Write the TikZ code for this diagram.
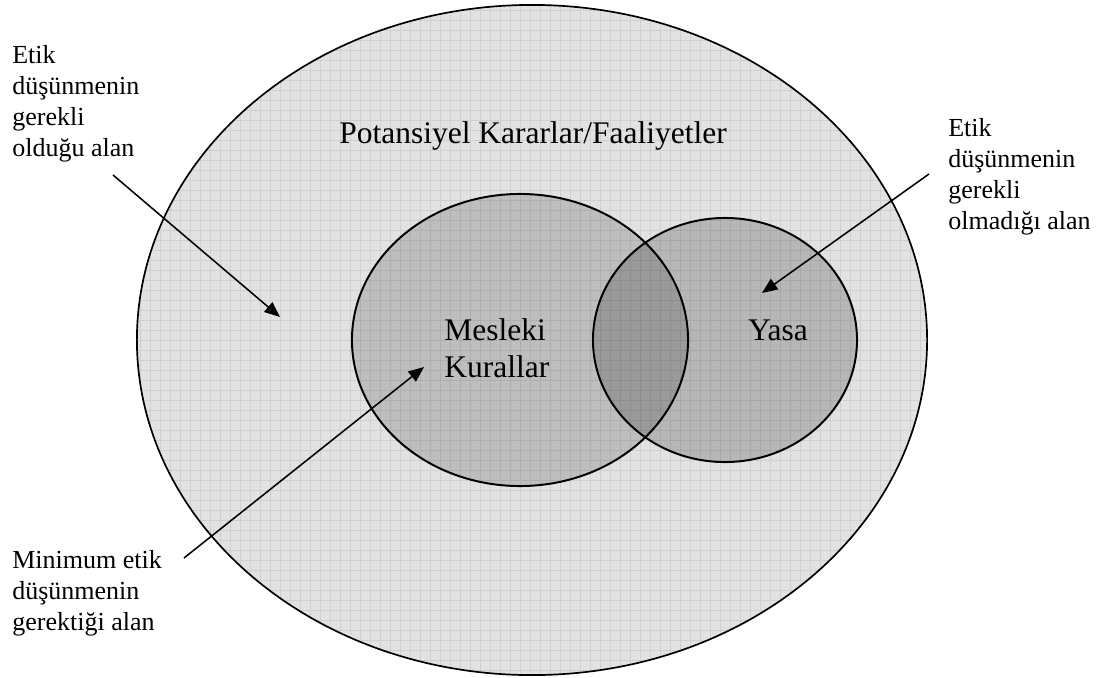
\documentclass[tikz,border=0pt]{standalone}
\usepackage{fontspec}
\setmainfont{Liberation Serif}
\usetikzlibrary{arrows.meta}
\definecolor{bgfill}{RGB}{226,226,226}
\definecolor{mesfill}{RGB}{190,190,190}
\tikzset{
  outline/.style={draw=black, line width=1.4pt},
  gridline/.style={draw=black, draw opacity=0.08, line width=0.5pt},
  pointer/.style={draw=black, line width=1.1pt, -{Triangle[length=11pt, width=9pt]}},
  sidelabel/.style={inner sep=0pt, anchor=west, align=left, font=\fontsize{18.5}{22}\selectfont},
  biglabel/.style={inner sep=0pt, font=\fontsize{22.4}{26.3}\selectfont}
}
\begin{document}
\begin{tikzpicture}[x=0.025cm, y=-0.025cm]
\useasboundingbox (0,0) rectangle (1104,677);
% big ellipse
\fill[bgfill] (532,340) ellipse [x radius=9.875cm, y radius=8.375cm];
% Mesleki Kurallar
\fill[mesfill] (520,340) ellipse [x radius=4.2cm, y radius=3.65cm];
\draw[outline] (520,340) ellipse [x radius=4.2cm, y radius=3.65cm];
% Yasa (semi-transparent)
\fill[black, fill opacity=0.19] (725,340) ellipse [x radius=3.3cm, y radius=3.05cm];
% grid texture
\begin{scope}
  \clip (532,340) ellipse [x radius=9.875cm, y radius=8.375cm];
  \draw[gridline, step=0.25cm] (130,0) grid (940,680);
\end{scope}
\draw[outline] (725,340) ellipse [x radius=3.3cm, y radius=3.05cm];
\draw[outline, line width=1.2pt] (532,340) ellipse [x radius=9.875cm, y radius=8.375cm];
% labels
\node[biglabel] (pot) at (533,136) {Potansiyel Kararlar/Faaliyetler};
\node[biglabel, anchor=west, align=left] (mes) at (444,348) {Mesleki\\Kurallar};
\node[biglabel] (yasa) at (778,330) {Yasa};
\node[sidelabel] (tl) at (12,104) {Etik\\düşünmenin\\gerekli\\olduğu alan};
\node[sidelabel] (tr) at (948,176.5) {Etik\\düşünmenin\\gerekli\\olmadığı alan};
\node[sidelabel] (bl) at (12,593) {Minimum etik\\düşünmenin\\gerektiği alan};
% arrows
\coordinate (a1s) at (113,175);
\coordinate (a1e) at (280,317);
\coordinate (a2s) at (929,174);
\coordinate (a2e) at (762,293);
\coordinate (a3s) at (184,558);
\coordinate (a3e) at (424,367);
\draw[pointer] (a1s) -- (a1e);
\draw[pointer] (a2s) -- (a2e);
\draw[pointer] (a3s) -- (a3e);
\end{tikzpicture}
\end{document}
